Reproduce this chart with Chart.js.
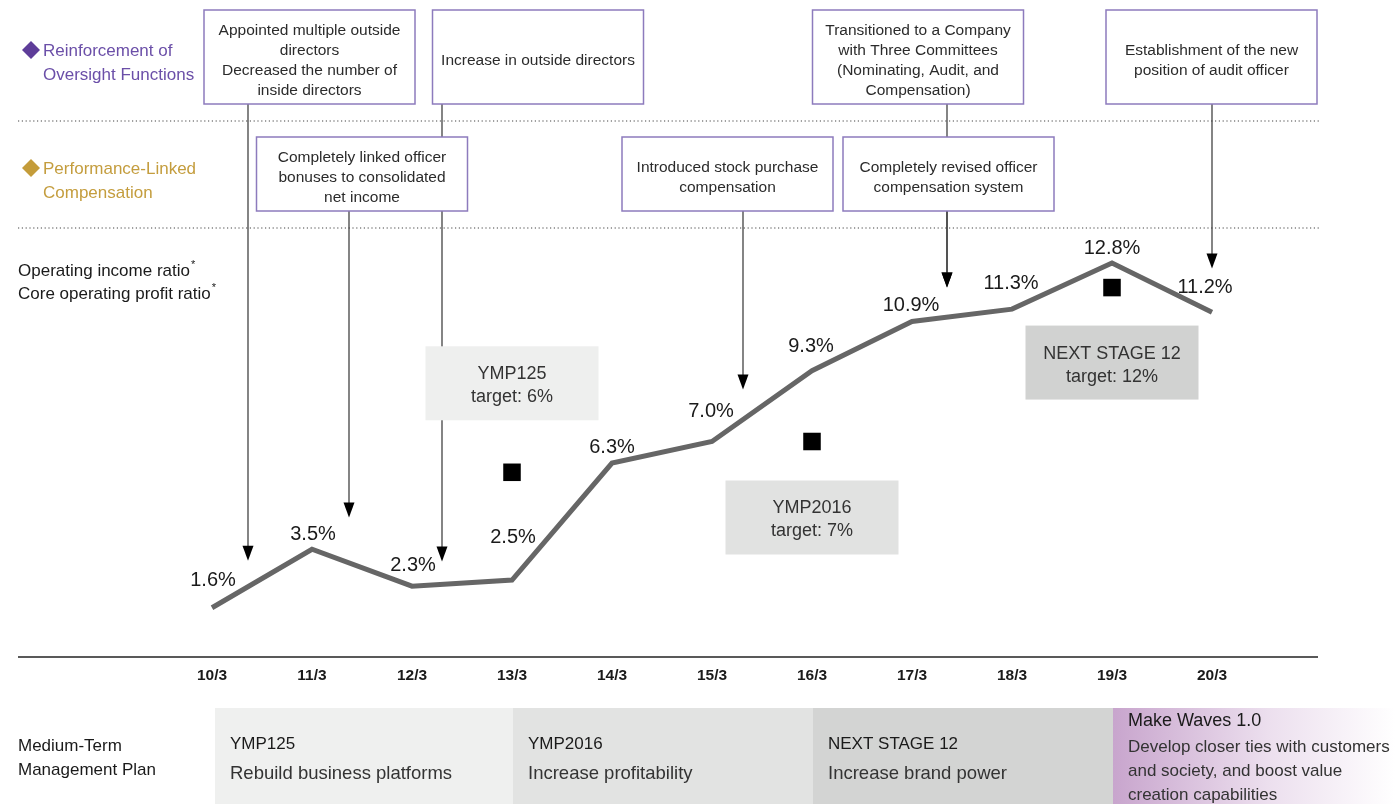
<!DOCTYPE html>
<html>
<head>
<meta charset="utf-8">
<script src="https://cdn.jsdelivr.net/npm/chart.js@4.4.1/dist/chart.umd.min.js"></script>
<style>
html, body { margin: 0; padding: 0; background: #fff; }
#wrap { width: 1395px; height: 804px; position: relative; }
</style>
</head>
<body>
<div id="wrap"><canvas id="chart"></canvas></div>
<script>
// Data
const fiscalYears = ['10/3', '11/3', '12/3', '13/3', '14/3', '15/3', '16/3', '17/3', '18/3', '19/3', '20/3'];
const operatingRatio = [1.6, 3.5, 2.3, 2.5, 6.3, 7.0, 9.3, 10.9, 11.3, 12.8, 11.2];
const planTargets = [null, null, null, 6, null, null, 7, null, null, 12, null];

const planNames = ['YMP125', 'YMP2016', 'NEXT STAGE 12', 'Make Waves 1.0'];
const planThemes = [
    ['Rebuild business platforms'],
    ['Increase profitability'],
    ['Increase brand power'],
    ['Develop closer ties with customers', 'and society, and boost value', 'creation capabilities']
];
const targetTexts = ['target: 6%', 'target: 7%', 'target: 12%'];

const oversightEvents = [
    ['Appointed multiple outside', 'directors', 'Decreased the number of', 'inside directors'],
    ['Increase in outside directors'],
    ['Transitioned to a Company', 'with Three Committees', '(Nominating, Audit, and', 'Compensation)'],
    ['Establishment of the new', 'position of audit officer']
];
const compensationEvents = [
    ['Completely linked officer', 'bonuses to consolidated', 'net income'],
    ['Introduced stock purchase', 'compensation'],
    ['Completely revised officer', 'compensation system']
];

// Mise en page (positions en unités d'axe)
const oversightLayout = [
    { cx: 0.975, arrowX: 0.36, tip: 3.13 },
    { cx: 3.26, arrowX: 2.30, tip: 3.10 },
    { cx: 7.06, arrowX: 7.35, tip: 12.0 },
    { cx: 9.995, arrowX: 10.0, tip: 12.62 }
];
const compensationLayout = [
    { cx: 1.50, arrowX: 1.37, tip: 4.53 },
    { cx: 5.155, arrowX: 5.31, tip: 8.69 },
    { cx: 7.365, arrowX: 7.35, tip: 12.0 }
];
const targetBoxOffset = [-89, 76, 75];
const labelDx = [1, 1, 1, 1, 0, -1, -1, -1, -1, 0, -7];
const labelDy = [-29, -16, -22, -44, -17, -32, -26, -17, -27, -16, -26];
const planStarts = [0.03, 3.01, 6.01, 9.01];

const FONT = "'Liberation Sans', Arial, sans-serif";

function xAt(chart, v) { return chart.scales.x.getPixelForValue(v); }
function yAt(chart, v) { return chart.scales.y.getPixelForValue(v); }

function drawLines(ctx, lines, x, yCenter, spacing, align) {
    ctx.textAlign = align || 'center';
    ctx.textBaseline = 'middle';
    const start = yCenter - (lines.length - 1) * spacing / 2;
    lines.forEach((t, i) => ctx.fillText(t, x, start + i * spacing));
}

function drawArrow(ctx, x, y1, y2) {
    ctx.strokeStyle = '#333';
    ctx.lineWidth = 1.2;
    ctx.beginPath();
    ctx.moveTo(x, y1);
    ctx.lineTo(x, y2 - 12);
    ctx.stroke();
    ctx.fillStyle = '#000';
    ctx.beginPath();
    ctx.moveTo(x - 5.5, y2 - 15);
    ctx.lineTo(x + 5.5, y2 - 15);
    ctx.lineTo(x, y2);
    ctx.closePath();
    ctx.fill();
}

function drawEventBox(ctx, lines, cx, top, h) {
    const w = 211;
    ctx.fillStyle = '#fff';
    ctx.fillRect(cx - w / 2, top, w, h);
    ctx.strokeStyle = '#8d7bbd';
    ctx.lineWidth = 1.5;
    ctx.strokeRect(cx - w / 2, top, w, h);
    ctx.fillStyle = '#2b2b2b';
    ctx.font = '15.5px ' + FONT;
    drawLines(ctx, lines, cx, top + h / 2 + 3.5, 20);
}

function diamond(ctx, x, y, r, color) {
    ctx.fillStyle = color;
    ctx.beginPath();
    ctx.moveTo(x, y - r);
    ctx.lineTo(x + r, y);
    ctx.lineTo(x, y + r);
    ctx.lineTo(x - r, y);
    ctx.closePath();
    ctx.fill();
}

const decorPlugin = {
    id: 'decor',
    beforeDatasetsDraw(chart) {
        const ctx = chart.ctx;
        const W = chart.width;
        ctx.save();

        // lignes pointillées
        ctx.strokeStyle = '#444';
        ctx.lineWidth = 1.2;
        ctx.setLineDash([1.2, 2.6]);
        [121, 228].forEach(y => {
            ctx.beginPath();
            ctx.moveTo(18, y);
            ctx.lineTo(1320, y);
            ctx.stroke();
        });
        ctx.setLineDash([]);

        // libellés des lignes
        diamond(ctx, 31, 50, 9, '#5e3d99');
        ctx.fillStyle = '#6b4fa8';
        ctx.font = '17px ' + FONT;
        drawLines(ctx, ['Reinforcement of', 'Oversight Functions'], 43, 63, 24, 'left');
        diamond(ctx, 31, 168, 9, '#c49c3a');
        ctx.fillStyle = '#c49d3e';
        drawLines(ctx, ['Performance-Linked', 'Compensation'], 43, 181, 24, 'left');

        ctx.fillStyle = '#1a1a1a';
        ctx.font = '17px ' + FONT;
        ctx.textAlign = 'left';
        ctx.textBaseline = 'middle';
        const l1 = 'Operating income ratio', l2 = 'Core operating profit ratio';
        ctx.fillText(l1, 18, 271);
        ctx.fillText(l2, 18, 294);
        const w1 = ctx.measureText(l1).width, w2 = ctx.measureText(l2).width;
        ctx.font = '11px ' + FONT;
        ctx.fillText('*', 18 + w1 + 1, 265);
        ctx.fillText('*', 18 + w2 + 1, 288);

        // flèches
        oversightLayout.forEach(p => drawArrow(ctx, xAt(chart, p.arrowX), 104, yAt(chart, p.tip)));
        compensationLayout.forEach(p => drawArrow(ctx, xAt(chart, p.arrowX), 211, yAt(chart, p.tip)));

        // encadrés
        oversightEvents.forEach((lines, i) => drawEventBox(ctx, lines, xAt(chart, oversightLayout[i].cx), 10, 94));
        compensationEvents.forEach((lines, i) => drawEventBox(ctx, lines, xAt(chart, compensationLayout[i].cx), 137, 74));

        // encadrés des objectifs
        const targetFills = ['#eeefee', '#e1e2e1', '#d1d2d1'];
        let k = 0;
        planTargets.forEach((v, i) => {
            if (v === null) return;
            const cx = xAt(chart, i), cy = yAt(chart, v) + targetBoxOffset[k];
            ctx.fillStyle = targetFills[k];
            ctx.fillRect(cx - 86.5, cy - 37, 173, 74);
            ctx.fillStyle = '#333';
            ctx.font = '18px ' + FONT;
            ctx.textAlign = 'center';
            ctx.textBaseline = 'middle';
            ctx.fillText(planNames[k], cx, cy - 9);
            ctx.fillText(targetTexts[k], cx, cy + 14);
            k++;
        });

        // axe horizontal
        const y0 = yAt(chart, 0);
        ctx.strokeStyle = '#222';
        ctx.lineWidth = 1.5;
        ctx.beginPath();
        ctx.moveTo(18, y0);
        ctx.lineTo(1318, y0);
        ctx.stroke();

        // plans à moyen terme
        ctx.fillStyle = '#1a1a1a';
        ctx.font = '17px ' + FONT;
        drawLines(ctx, ['Medium-Term', 'Management Plan'], 18, 758, 24, 'left');
        const bandFills = ['#eff0ef', '#e2e3e2', '#d3d4d3'];
        planNames.forEach((name, i) => {
            const x1 = xAt(chart, planStarts[i]);
            const x2 = i < 3 ? xAt(chart, planStarts[i + 1]) : W;
            if (i < 3) {
                ctx.fillStyle = bandFills[i];
            } else {
                const g = ctx.createLinearGradient(x1, 0, W, 0);
                g.addColorStop(0, '#c8a5cd');
                g.addColorStop(0.55, '#ecdfee');
                g.addColorStop(1, '#ffffff');
                ctx.fillStyle = g;
            }
            ctx.fillRect(x1, 708, x2 - x1, 96);
            ctx.fillStyle = '#1a1a1a';
            ctx.textAlign = 'left';
            ctx.textBaseline = 'middle';
            if (i < 3) {
                ctx.font = '17px ' + FONT;
                ctx.fillText(name, x1 + 15, 744);
                ctx.fillStyle = '#333';
                ctx.font = '18.5px ' + FONT;
                ctx.fillText(planThemes[i][0], x1 + 15, 774);
            } else {
                ctx.font = '18px ' + FONT;
                ctx.fillText(name, x1 + 15, 721);
                ctx.fillStyle = '#333';
                ctx.font = '17px ' + FONT;
                planThemes[i].forEach((t, j) => ctx.fillText(t, x1 + 15, 747 + j * 24));
            }
        });
        ctx.restore();
    },
    afterDatasetsDraw(chart) {
        const ctx = chart.ctx;
        const meta = chart.getDatasetMeta(0);
        ctx.save();
        ctx.fillStyle = '#1a1a1a';
        ctx.font = '20px ' + FONT;
        ctx.textAlign = 'center';
        ctx.textBaseline = 'alphabetic';
        meta.data.forEach((pt, i) => {
            ctx.fillText(operatingRatio[i].toFixed(1) + '%', pt.x + labelDx[i], pt.y + labelDy[i] + 7);
        });
        ctx.restore();
    }
};

new Chart(document.getElementById('chart'), {
    type: 'line',
    data: {
        labels: fiscalYears,
        datasets: [{
            data: operatingRatio,
            borderColor: '#666666',
            borderWidth: 5,
            pointRadius: 0,
            tension: 0,
            clip: false
        }, {
            data: planTargets,
            showLine: false,
            pointStyle: 'rect',
            pointRadius: 12.4,
            pointBackgroundColor: '#000',
            pointBorderWidth: 0,
            clip: false
        }]
    },
    plugins: [decorPlugin],
    options: {
        responsive: true,
        maintainAspectRatio: false,
        animation: false,
        events: [],
        layout: { padding: { left: 162, right: 133, top: 226, bottom: 0 } },
        plugins: { legend: { display: false }, tooltip: { enabled: false } },
        scales: {
            x: {
                offset: true,
                grid: { display: false },
                border: { display: false },
                ticks: { color: '#1a1a1a', padding: 1, font: { family: FONT, size: 15.5, weight: 'bold' } },
                afterFit: (scale) => { scale.height = 147; }
            },
            y: { display: false, min: 0, max: 14 }
        }
    }
});
</script>
</body>
</html>
